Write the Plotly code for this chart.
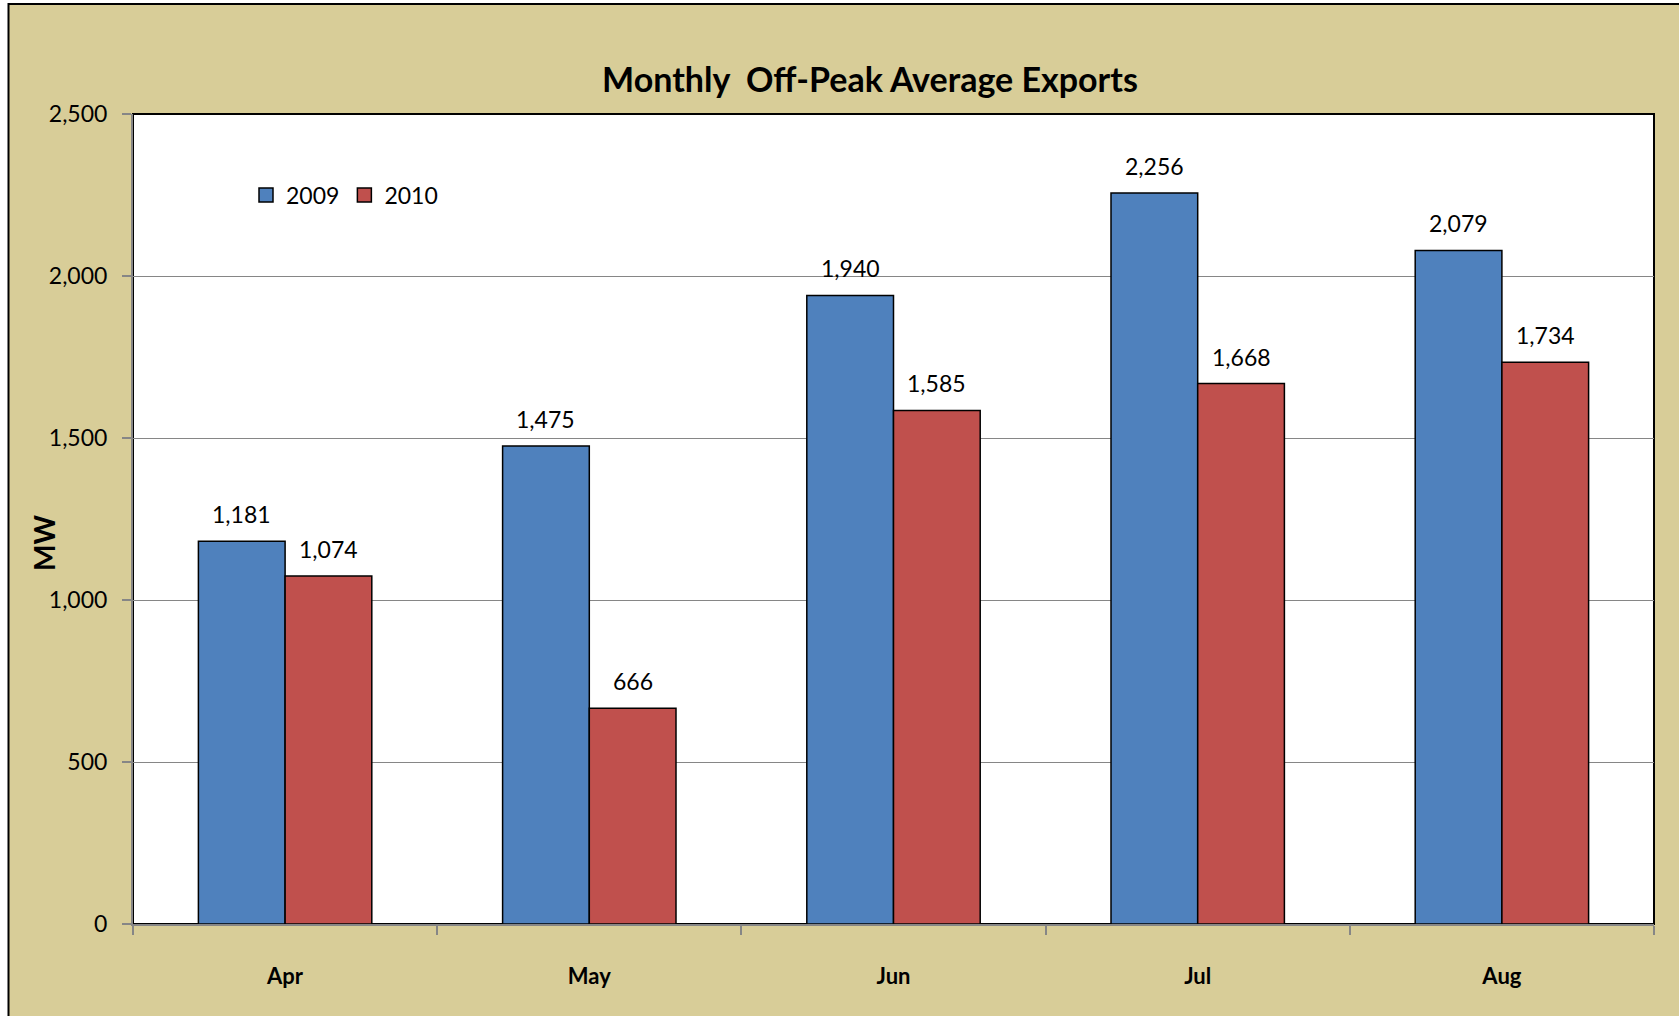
import plotly.graph_objects as go

months = ["Apr", "May", "Jun", "Jul", "Aug"]
exports_2009 = [1181, 1475, 1940, 2256, 2079]
exports_2010 = [1074, 666, 1585, 1668, 1734]
y_ticks = [0, 500, 1000, 1500, 2000, 2500]

W, H = 1679, 1016
L, R, T, B = 133, 25, 114, 92
pw = W - L - R
ph = H - T - B

FONT = "Lato"
TAN = "#D8CD98"
BLUE = "#4F81BD"
RED = "#C0504D"
BARGAP = 0.43

fig = go.Figure()
series = [("2009", exports_2009, BLUE), ("2010", exports_2010, RED)]
for name, vals, col in series:
    fig.add_trace(go.Bar(
        x=months, y=vals, name=name, showlegend=False,
        marker=dict(color=col, line=dict(color="black", width=1.5)),
        cliponaxis=False,
    ))
# legend entries with larger square swatches
for name, vals, col in series:
    fig.add_trace(go.Scatter(
        x=[None], y=[None], mode="markers", name=name,
        marker=dict(symbol="square", size=14, color=col, line=dict(color="black", width=1.5)),
    ))

def px_x(p):
    return (p - L) / pw

def px_y(p):
    return (H - B - p) / ph

# data labels above each bar
bar_w = pw / len(months) * (1 - BARGAP) / len(series)
annotations = []
for i, (name, vals, col) in enumerate(series):
    shift = (i - (len(series) - 1) / 2) * bar_w
    for m, v in zip(months, vals):
        annotations.append(dict(
            x=m, y=v, xref="x", yref="y", text=f"{v:,}", showarrow=False,
            xshift=shift, yshift=11, yanchor="bottom", xanchor="center",
            font=dict(family=FONT, size=23, color="black")))

annotations.append(dict(text="<b>MW</b>", xref="paper", yref="paper", x=px_x(44), y=px_y(543),
                        textangle=-90, showarrow=False,
                        font=dict(family=FONT, size=28, color="black"),
                        xanchor="center", yanchor="middle"))

fig.update_layout(
    width=W, height=H,
    margin=dict(l=L, r=R, t=T, b=B),
    paper_bgcolor="white",
    plot_bgcolor="white",
    barmode="group",
    bargap=BARGAP,
    bargroupgap=0,
    font=dict(family=FONT, color="black"),
    title=dict(text="<b>Monthly  Off-Peak Average Exports</b>",
               font=dict(family=FONT, size=34, color="black"),
               x=px_x(870), xanchor="center", xref="paper",
               y=1 - 80 / H, yanchor="middle"),
    showlegend=True,
    legend=dict(orientation="h", x=px_x(246), y=px_y(195), xanchor="left", yanchor="middle",
                font=dict(family=FONT, size=23), bgcolor="rgba(0,0,0,0)",
                itemwidth=30, tracegroupgap=0, traceorder="normal"),
    xaxis=dict(showgrid=False, showline=True, linecolor="#868686", linewidth=2,
               ticks="outside", tickson="boundaries", ticklen=9, tickcolor="#868686",
               tickwidth=1.5, tickfont=dict(family=FONT, size=22, color="black", weight="bold"),
               ticklabelstandoff=32),
    yaxis=dict(range=[0, 2500], tickvals=y_ticks, tickformat=",d",
               showgrid=True, gridcolor="#868686", gridwidth=1,
               showline=True, linecolor="#868686", linewidth=2,
               ticks="outside", ticklen=9, tickcolor="#868686", tickwidth=1.5,
               tickfont=dict(family=FONT, size=23, color="black"),
               ticklabelstandoff=10, zeroline=False),
    shapes=[
        dict(type="rect", xref="paper", yref="paper", layer="below",
             x0=px_x(8.5), x1=px_x(W + 20), y0=px_y(H + 20), y1=px_y(4),
             fillcolor=TAN, line=dict(color="black", width=2)),
        dict(type="rect", xref="paper", yref="paper", layer="below",
             x0=0, x1=1, y0=0, y1=1,
             fillcolor="white", line=dict(color="black", width=2)),
    ],
    annotations=annotations,
)

fig.write_html("out.html", config={"displayModeBar": False},
               post_script="document.body.style.margin='0';")
